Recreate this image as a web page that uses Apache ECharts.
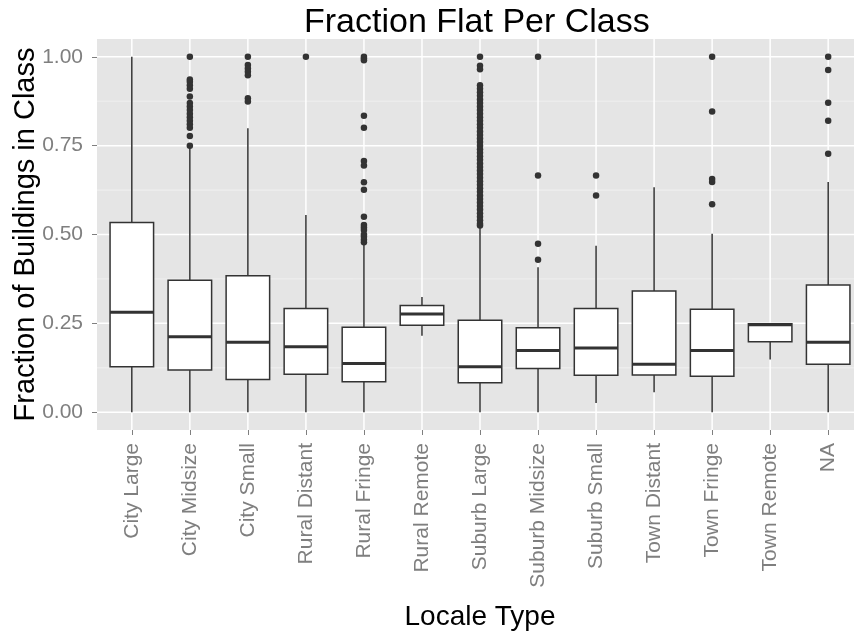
<!DOCTYPE html>
<html>
<head>
<meta charset="utf-8">
<script src="https://cdn.jsdelivr.net/npm/echarts@6/dist/echarts.min.js"></script>
<style>
html,body{margin:0;padding:0;background:#fff;}
#chart{width:854px;height:631px;}
</style>
</head>
<body>
<div id="chart"></div>
<script>
var categories = ['City Large','City Midsize','City Small','Rural Distant','Rural Fringe','Rural Remote','Suburb Large','Suburb Midsize','Suburb Small','Town Distant','Town Fringe','Town Remote','NA'];
var whiskerLow  = [0.000, 0.000, 0.000, 0.000, 0.000, 0.215, 0.000, 0.000, 0.026, 0.056, 0.000, 0.148, 0.000];
var q1          = [0.128, 0.119, 0.092, 0.107, 0.086, 0.245, 0.083, 0.123, 0.104, 0.105, 0.101, 0.198, 0.135];
var median      = [0.281, 0.212, 0.197, 0.184, 0.137, 0.276, 0.128, 0.174, 0.181, 0.135, 0.174, 0.246, 0.197];
var q3          = [0.534, 0.371, 0.384, 0.292, 0.239, 0.300, 0.259, 0.238, 0.292, 0.341, 0.290, 0.249, 0.358];
var whiskerHigh = [1.000, 0.745, 0.799, 0.555, 0.472, 0.324, 0.520, 0.408, 0.468, 0.633, 0.502, 0.249, 0.648];
var outliers = [
  [],
  [1.00, 0.936, 0.93, 0.92, 0.91, 0.888, 0.87, 0.86, 0.85, 0.84, 0.83, 0.82, 0.81, 0.80, 0.777, 0.75],
  [1.00, 0.977, 0.967, 0.958, 0.948, 0.883, 0.874],
  [1.00],
  [1.00, 0.995, 0.99, 0.834, 0.80, 0.707, 0.694, 0.647, 0.626, 0.55, 0.527, 0.52, 0.513, 0.50, 0.494, 0.485, 0.478],
  [],
  [1.00, 0.975, 0.965, 0.92, 0.91, 0.90, 0.89, 0.88, 0.87, 0.86, 0.85, 0.84, 0.83, 0.82, 0.81, 0.80, 0.79, 0.78, 0.77, 0.76, 0.75, 0.74, 0.73, 0.72, 0.71, 0.70, 0.69, 0.68, 0.67, 0.66, 0.65, 0.64, 0.63, 0.62, 0.61, 0.60, 0.59, 0.58, 0.57, 0.56, 0.55, 0.54, 0.53, 0.525],
  [1.00, 0.666, 0.474, 0.429],
  [0.666, 0.61],
  [],
  [1.00, 0.846, 0.656, 0.648, 0.585],
  [],
  [1.00, 0.963, 0.871, 0.82, 0.727]
];
var yTicks = [0, 0.25, 0.5, 0.75, 1];
var yMinor = [0.125, 0.375, 0.625, 0.875];

var xIdx = categories.map(function(c, i){ return i; });
var boxData = categories.map(function(c, i){
  return [i, whiskerLow[i], q1[i], median[i], q3[i], whiskerHigh[i]];
});
var outlierData = [];
outliers.forEach(function(arr, i){ arr.forEach(function(v){ outlierData.push([i, v]); }); });

// grid lines: [orientation (0 = horizontal, 1 = vertical), value, major flag]
var gridLineData = [];
yMinor.forEach(function(v){ gridLineData.push([0, v, 0]); });
yTicks.forEach(function(v){ gridLineData.push([0, v, 1]); });
xIdx.forEach(function(v){ gridLineData.push([1, v, 1]); });

var FONT = "'Liberation Sans', Arial, Helvetica, sans-serif";
var stroke = '#333333';

var chart = echarts.init(document.getElementById('chart'), null, {renderer:'canvas'});
chart.setOption({
  animation: false,
  backgroundColor: '#ffffff',
  title: {
    text: 'Fraction Flat Per Class',
    left: 304, top: 6, padding: 0,
    textStyle: {fontFamily: FONT, fontSize: 34, fontWeight: 'normal', color: '#000'}
  },
  grid: {
    left: 97, top: 39, right: -9, bottom: 201,
    show: true, backgroundColor: '#E5E5E5', borderWidth: 0,
    containLabel: false, outerBoundsMode: 'none'
  },
  xAxis: {
    type: 'value', min: -0.6, max: 12.6,
    name: 'Locale Type', nameLocation: 'middle', nameGap: 173, nameMoveOverlap: false,
    nameTextStyle: {fontFamily: FONT, fontSize: 28, color: '#000'},
    axisLine: {show: false, onZero: false},
    axisTick: {show: true, customValues: xIdx, length: 5, lineStyle: {color: '#7F7F7F', width: 1}},
    axisLabel: {
      customValues: xIdx, rotate: 90, margin: 13,
      fontFamily: FONT, fontSize: 21, color: '#7F7F7F',
      formatter: function(v){ return categories[Math.round(v)]; }
    },
    splitLine: {show: false}
  },
  yAxis: {
    type: 'value', min: -0.05, max: 1.05,
    name: 'Fraction of Buildings in Class', nameLocation: 'middle', nameGap: 57, nameMoveOverlap: false,
    nameTextStyle: {fontFamily: FONT, fontSize: 29, color: '#000'},
    axisLine: {show: false, onZero: false},
    axisTick: {show: true, customValues: yTicks, length: 5, lineStyle: {color: '#7F7F7F', width: 1}},
    axisLabel: {
      customValues: yTicks, margin: 14,
      fontFamily: FONT, fontSize: 21, color: '#7F7F7F',
      formatter: function(v){ return v.toFixed(2); }
    },
    splitLine: {show: false}
  },
  series: [{
    type: 'custom',
    name: 'gridlines',
    silent: true,
    data: gridLineData,
    encode: {x: -1, y: -1},
    renderItem: function(params, api){
      var cs = params.coordSys;
      var orient = api.value(0), v = api.value(1), major = api.value(2);
      var style = major ? {stroke: '#FFFFFF', lineWidth: 1.5} : {stroke: '#F2F2F2', lineWidth: 0.8};
      if (orient === 0) {
        var p = api.coord([0, v]);
        return {type: 'line', shape: {x1: cs.x, y1: p[1], x2: cs.x + cs.width, y2: p[1]}, style: style};
      }
      var q = api.coord([v, 0]);
      return {type: 'line', shape: {x1: q[0], y1: cs.y, x2: q[0], y2: cs.y + cs.height}, style: style};
    }
  }, {
    type: 'custom',
    name: 'boxes',
    data: boxData,
    encode: {x: 0, y: [1, 2, 3, 4, 5]},
    renderItem: function(params, api){
      var x = api.value(0);
      var lo = api.coord([x, api.value(1)]);
      var b1 = api.coord([x, api.value(2)]);
      var md = api.coord([x, api.value(3)]);
      var b3 = api.coord([x, api.value(4)]);
      var hi = api.coord([x, api.value(5)]);
      var w = api.size([0.75, 0])[0];
      var h = w / 2;
      return {type: 'group', children: [
        {type: 'line', shape: {x1: hi[0], y1: hi[1], x2: b3[0], y2: b3[1]}, style: {stroke: stroke, lineWidth: 1.5}},
        {type: 'line', shape: {x1: b1[0], y1: b1[1], x2: lo[0], y2: lo[1]}, style: {stroke: stroke, lineWidth: 1.5}},
        {type: 'rect', shape: {x: b3[0] - h, y: b3[1], width: w, height: b1[1] - b3[1]}, style: {fill: '#FFFFFF', stroke: stroke, lineWidth: 1.5}},
        {type: 'line', shape: {x1: md[0] - h, y1: md[1], x2: md[0] + h, y2: md[1]}, style: {stroke: stroke, lineWidth: 3}}
      ]};
    }
  }, {
    type: 'scatter',
    name: 'outliers',
    data: outlierData,
    symbol: 'circle',
    symbolSize: 6.5,
    itemStyle: {color: stroke, opacity: 1},
    z: 3
  }]
});
</script>
</body>
</html>
